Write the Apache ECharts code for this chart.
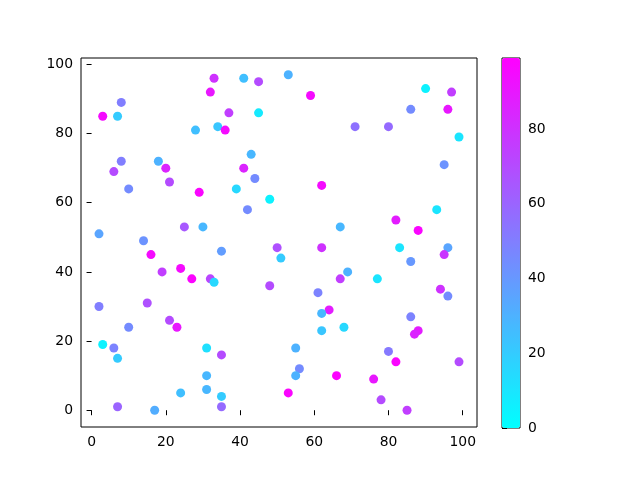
<!DOCTYPE html>
<html><head><meta charset="utf-8">
<script src="https://cdn.jsdelivr.net/npm/echarts@6/dist/echarts.min.js"></script>
<style>html,body{margin:0;padding:0;background:#fff}#c{width:640px;height:480px}</style>
</head><body><div id="c"></div>
<script>
const xs = [33,41,45,32,8,3,7,37,45,28,34,36,43,8,18,20,41,6,44,21,10,39,29,48,42,25,30,2,14,
  53,59,90,97,86,96,71,80,99,95,62,93,67,82,88,
  35,16,50,51,19,24,27,32,33,48,2,15,21,23,10,3,6,7,31,35,31,24,31,35,7,17,35,
  62,83,96,95,86,69,67,77,94,96,61,64,62,62,68,86,88,87,55,80,82,99,56,55,66,76,53,78,85];
const ys = [96,96,95,92,89,85,85,86,86,81,82,81,74,72,72,70,70,69,67,66,64,64,63,61,58,53,53,51,49,
  97,91,93,92,87,87,82,82,79,71,65,58,53,55,52,
  46,45,47,44,40,41,38,38,37,36,30,31,26,24,24,19,18,15,18,16,10,5,6,4,1,0,1,
  47,47,47,45,43,40,38,38,35,33,34,29,28,23,24,27,23,22,18,17,14,14,12,10,10,9,5,3,0];
const cs = [80,25,70,90,50,95,20,75,8,25,22,95,28,50,30,85,85,70,45,70,45,15,97,5,45,65,28,35,42,
  30,95,5,75,45,90,55,58,10,42,95,10,28,88,97,
  38,95,68,20,75,95,98,72,15,70,50,68,70,90,45,5,48,20,12,70,28,25,28,20,60,32,58,
  80,10,35,78,40,30,75,10,80,45,48,88,28,22,15,48,88,85,30,52,97,70,45,30,98,90,97,70,75];
const xTicks = [0,20,40,60,80,100];
const yTicks = [0,20,40,60,80,100];
const cTicks = [0,20,40,60,80];
const cMin = 0, cMax = 99;

const pts = xs.map((x,i)=>[x, ys[i], cs[i]]);
const font = {fontFamily:'DejaVu Sans', fontSize:13.9, color:'#000'};
const chart = echarts.init(document.getElementById('c'), null, {renderer:'canvas'});
chart.setOption({
  animation:false,
  grid:[
    {left:81, top:58, width:396, height:369, show:true, borderColor:'#000', borderWidth:1, backgroundColor:'transparent'},
    {left:502, top:58, width:18, height:370, show:true, borderColor:'#000', borderWidth:1, backgroundColor:'transparent'}
  ],
  xAxis:[
    {type:'value', gridIndex:0, min:-2.85, max:103.85,
     axisLine:{show:false}, splitLine:{show:false},
     axisTick:{show:true, length:5, lineStyle:{color:'#000'}, customValues:xTicks},
     axisLabel:{...font, margin:8, customValues:xTicks}},
    {type:'value', gridIndex:1, min:0, max:1, show:false}
  ],
  yAxis:[
    {type:'value', gridIndex:0, min:-4.85, max:101.85,
     axisLine:{show:false}, splitLine:{show:false},
     axisTick:{show:true, length:5, lineStyle:{color:'#000'}, customValues:yTicks},
     axisLabel:{...font, margin:8, customValues:yTicks}},
    {type:'value', gridIndex:1, min:cMin, max:cMax, position:'right',
     axisLine:{show:false}, splitLine:{show:false},
     axisTick:{show:true, length:5, lineStyle:{color:'#000'}, customValues:cTicks},
     axisLabel:{...font, margin:8, customValues:cTicks}}
  ],
  visualMap:{
    type:'continuous', min:cMin, max:cMax, dimension:2, seriesIndex:0,
    inRange:{color:['#00ffff','#ff00ff']},
    orient:'vertical', left:502, top:58, itemWidth:18, itemHeight:370,
    padding:0, text:null, showLabel:false, calculable:false, hoverLink:false
  },
  series:[
    {type:'scatter', xAxisIndex:0, yAxisIndex:0, data:pts, symbolSize:9, itemStyle:{opacity:1}},
    {type:'scatter', xAxisIndex:1, yAxisIndex:1, data:[]}
  ]
});
</script></body></html>
